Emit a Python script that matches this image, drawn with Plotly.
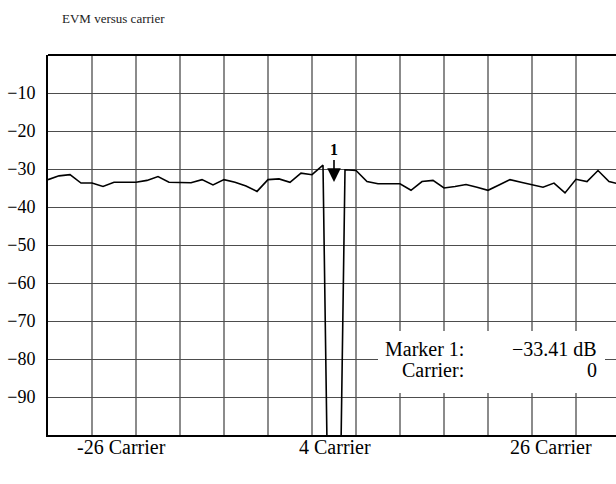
import plotly.graph_objects as go

carriers = list(range(-26, 27))
evm_db = [
    -32.8, -31.8, -31.5, -33.7, -33.7, -34.6, -33.5, -33.5, -33.5, -33.0,
    -32.0, -33.5, -33.6, -33.6, -32.8, -34.2, -32.8, -33.5, -34.5, -35.9,
    -32.8, -32.6, -33.5, -31.1, -31.5, -29.0,
    -230.0,
    -30.2, -30.4, -33.3, -33.9, -33.9, -33.9, -35.6, -33.3, -33.0, -35.0,
    -34.6, -34.1, -34.8, -35.6, -34.2, -32.8, -33.5, -34.2, -34.8, -33.7,
    -36.3, -32.7, -33.3, -30.4, -33.3, -34.0,
]
x_grid = [-22, -18, -14, -10, -6, -2, 2, 6, 10, 14, 18, 22]
y_ticks = [-10, -20, -30, -40, -50, -60, -70, -80, -90]
x_labels = ["-26 Carrier", "4 Carrier", "26 Carrier"]
x_label_pos = [-19.3, 0.1, 19.7]
marker_carrier = 0
marker_value = -33.41

FONT = "Liberation Serif, Times New Roman, serif"
W = 616
PW = W - 48
GRID = "#4d4d4d"

fig = go.Figure()
fig.add_trace(go.Scatter(
    x=carriers, y=evm_db, mode="lines",
    line=dict(color="black", width=1.6),
    hoverinfo="skip", showlegend=False,
))

fig.update_layout(
    width=W, height=484,
    margin=dict(l=48, r=0, t=55, b=49),
    paper_bgcolor="white", plot_bgcolor="white",
    font=dict(family=FONT, color="black"),
    showlegend=False,
    xaxis=dict(
        range=[-26, -26 + PW / 11.0],
        showgrid=False, showticklabels=False, ticks="", zeroline=False,
        showline=True, linecolor="black", linewidth=2, mirror=False,
    ),
    yaxis=dict(
        range=[-100, 0], tickvals=y_ticks,
        showgrid=True, gridcolor=GRID, gridwidth=1.3,
        ticks="", zeroline=False,
        showline=True, linecolor="black", linewidth=2, mirror=False,
        tickfont=dict(family=FONT, size=18, color="black"),
        ticklabelstandoff=7,
    ),
)

def px(xpix):
    return (xpix - 48) / PW

def py(ypix):
    return 1 - (ypix - 55) / 380

# vertical grid lines every 4 carriers
for gx in x_grid:
    fig.add_shape(
        type="line", xref="x", yref="paper", x0=gx, x1=gx, y0=0, y1=1,
        line=dict(color=GRID, width=1.3), layer="below",
    )

# top border of the frame
fig.add_shape(
    type="line", xref="paper", yref="paper", x0=0, x1=1, y0=1, y1=1,
    line=dict(color="black", width=2), layer="above",
)

fig.add_annotation(
    text="EVM versus carrier", xref="paper", yref="paper",
    x=px(60), y=py(18), xanchor="left", yanchor="middle",
    showarrow=False, font=dict(family=FONT, size=13, color="#222222"),
)
for lab, pos in zip(x_labels, x_label_pos):
    fig.add_annotation(
        text=lab, x=pos, xref="x", yref="paper", y=py(447),
        xanchor="center", yanchor="middle", showarrow=False,
        font=dict(family=FONT, size=20, color="black"),
    )
fig.add_annotation(
    x=marker_carrier, y=marker_value, xref="x", yref="y",
    text="<b>1</b>", showarrow=True, arrowhead=2, arrowsize=1.7,
    arrowwidth=1.6, arrowcolor="black", ax=0, ay=-32,
    font=dict(family=FONT, size=16, color="black"),
)
fig.add_shape(
    type="rect", xref="paper", yref="paper",
    x0=px(378), x1=px(605), y0=py(393), y1=py(331),
    fillcolor="white", line=dict(width=0), layer="above",
)
for txt, xx, yy in [
    ("Marker 1:", 466, 349),
    ("Carrier:", 466, 370),
    (f"\u2212{abs(marker_value):.2f} dB", 599, 349),
    (str(marker_carrier), 599, 370),
]:
    fig.add_annotation(
        text=txt, xref="paper", yref="paper",
        x=px(xx), y=py(yy), xanchor="right", yanchor="middle",
        showarrow=False, font=dict(family=FONT, size=20, color="black"),
    )

fig.write_html(
    "out.html",
    config={"displayModeBar": False},
    post_script="document.body.style.margin='0px';document.body.style.overflow='hidden';",
)
